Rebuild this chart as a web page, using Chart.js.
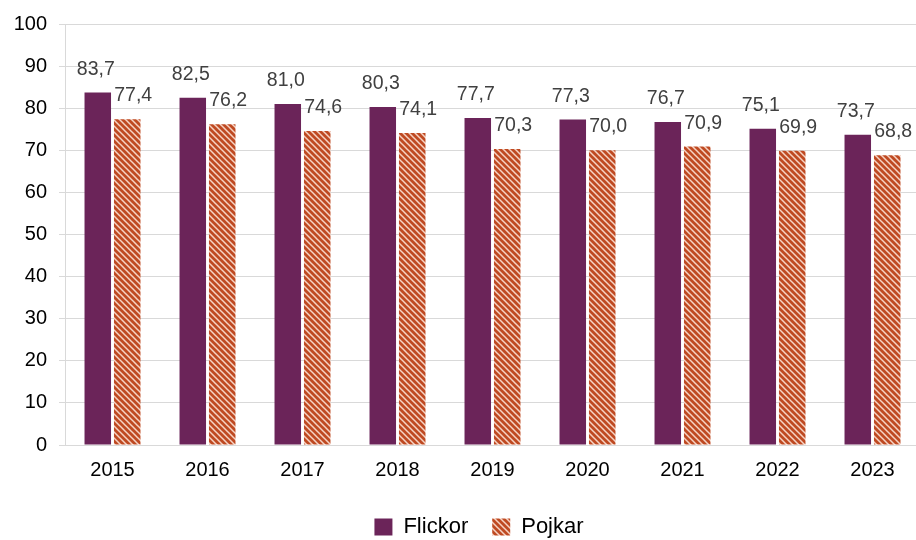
<!DOCTYPE html>
<html>
<head>
<meta charset="utf-8">
<script src="https://cdn.jsdelivr.net/npm/chart.js@4"></script>
<style>
  html, body { margin: 0; padding: 0; background: #fff; overflow: hidden; }
  #wrap { width: 958px; height: 540px; }
</style>
</head>
<body>
<div id="wrap"><canvas id="chart"></canvas></div>
<script>
// Data
const years = ['2015', '2016', '2017', '2018', '2019', '2020', '2021', '2022', '2023'];
const flickor = [83.7, 82.5, 81.0, 80.3, 77.7, 77.3, 76.7, 75.1, 73.7];
const pojkar = [77.4, 76.2, 74.6, 74.1, 70.3, 70.0, 70.9, 69.9, 68.8];

// Hatch pattern for Pojkar
function makeHatch() {
    const size = 6;
    const c = document.createElement('canvas');
    c.width = size; c.height = size;
    const g = c.getContext('2d');
    g.fillStyle = '#bf4a22';
    g.fillRect(0, 0, size, size);
    g.strokeStyle = 'rgba(255,235,225,0.85)';
    g.lineWidth = 1.5;
    g.beginPath();
    g.moveTo(-1, -1); g.lineTo(size + 1, size + 1);
    g.moveTo(-1, size - 1); g.lineTo(1, size + 1);
    g.moveTo(size - 1, -1); g.lineTo(size + 1, 1);
    g.stroke();
    return g.createPattern(c, 'repeat');
}
const hatch = makeHatch();

// Value labels above bars
const valueLabels = {
    id: 'valueLabels',
    afterDatasetsDraw(chart) {
        const ctx = chart.ctx;
        ctx.save();
        ctx.font = '19.5px "Liberation Sans", Arial, sans-serif';
        ctx.fillStyle = '#404040';
        ctx.textAlign = 'center';
        ctx.textBaseline = 'alphabetic';
        chart.data.datasets.forEach((ds, i) => {
            chart.getDatasetMeta(i).data.forEach((bar, j) => {
                ctx.fillText(ds.data[j].toFixed(1).replace('.', ','), bar.x + (i === 1 ? 6 : -2), bar.y - 18);
            });
        });
        ctx.restore();
    }
};

Chart.defaults.font.family = '"Liberation Sans", Arial, sans-serif';
Chart.defaults.color = '#000';

new Chart(document.getElementById('chart'), {
    type: 'bar',
    data: {
        labels: years,
        datasets: [
            { label: 'Flickor', data: flickor, backgroundColor: '#6b2459',
              categoryPercentage: 0.62, barPercentage: 0.9 },
            { label: 'Pojkar', data: pojkar, backgroundColor: hatch,
              categoryPercentage: 0.62, barPercentage: 0.9 }
        ]
    },
    options: {
        responsive: true,
        maintainAspectRatio: false,
        animation: false,
        layout: { padding: { top: 6, right: 0, bottom: -8, left: 0 } },
        plugins: {
            tooltip: { enabled: false },
            legend: {
                position: 'bottom',
                labels: { boxWidth: 18, boxHeight: 17, padding: 24, font: { size: 22 }, color: '#000' }
            }
        },
        scales: {
            x: {
                grid: { display: false },
                border: { display: true, color: '#d9d9d9', width: 1 },
                ticks: { font: { size: 20 }, color: '#000', padding: 5 },
                afterFit: (s) => { s.height = 47; }
            },
            y: {
                min: 0, max: 100,
                afterFit: (s) => { s.width = 65; },
                ticks: { stepSize: 10, font: { size: 20 }, color: '#000', padding: 12 },
                grid: { color: '#d9d9d9', tickLength: 6 },
                border: { display: true, color: '#d9d9d9' }
            },
            // empty right-hand axis, only reserves the space cut off on the right
            yRight: {
                position: 'right',
                min: 0, max: 100,
                ticks: { display: false },
                grid: { display: false },
                border: { display: false },
                afterFit: (s) => { s.width = 38; }
            }
        }
    },
    plugins: [valueLabels]
});
</script>
</body>
</html>
